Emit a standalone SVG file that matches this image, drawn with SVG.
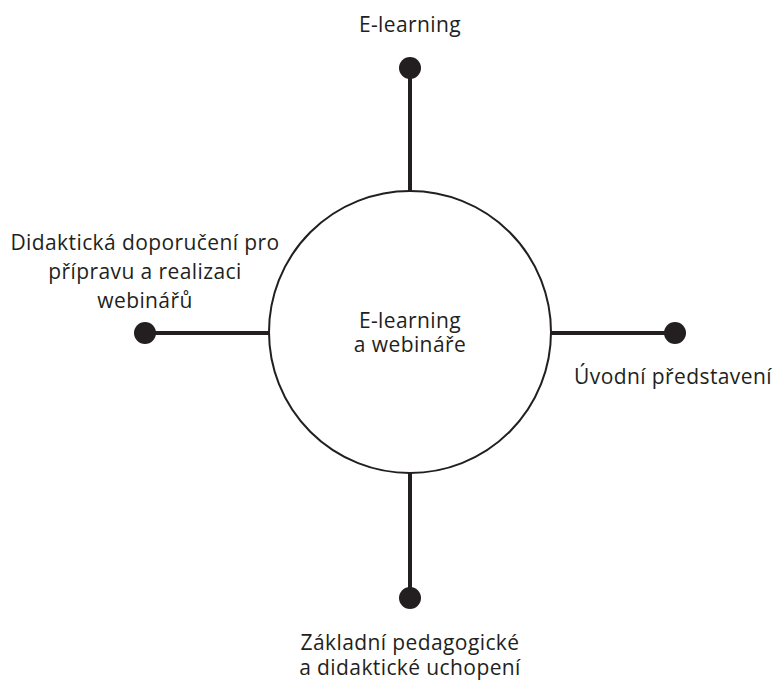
<svg xmlns="http://www.w3.org/2000/svg" width="775" height="681" viewBox="0 0 775 681">
  <style>
    .lbl { font-family: "Open Sans", "Noto Sans", "Liberation Sans", sans-serif; font-size: 21px; letter-spacing: 0.4px; fill: #231f20; text-anchor: middle; }
    .arm { stroke: #231f20; stroke-width: 4; fill: none; }
    .dot { fill: #231f20; }
    .hub { fill: #ffffff; stroke: #231f20; stroke-width: 2; }
  </style>
  <rect width="775" height="681" fill="#ffffff"/>

  <!-- spokes from the hub to each topic -->
  <g id="connectors">
    <line class="arm" x1="410" y1="68" x2="410" y2="191"/>
    <line class="arm" x1="410" y1="473" x2="410" y2="598"/>
    <line class="arm" x1="145" y1="333" x2="270" y2="333"/>
    <line class="arm" x1="550" y1="333" x2="675" y2="333"/>
  </g>

  <g id="hub">
    <circle class="hub" cx="410" cy="332" r="141"/>
    <text class="lbl" x="410" y="328">E-learning</text>
    <text class="lbl" x="410" y="352">a webináře</text>
  </g>

  <g id="topic-top">
    <circle class="dot" cx="410" cy="68" r="11"/>
    <text class="lbl" x="410" y="32">E-learning</text>
  </g>

  <g id="topic-left">
    <circle class="dot" cx="145" cy="333" r="11"/>
    <text class="lbl" x="145" y="250">Didaktická doporučení pro</text>
    <text class="lbl" x="145" y="279">přípravu a realizaci</text>
    <text class="lbl" x="145" y="308">webinářů</text>
  </g>

  <g id="topic-right">
    <circle class="dot" cx="675" cy="333" r="11"/>
    <text class="lbl" x="673" y="384">Úvodní představení</text>
  </g>

  <g id="topic-bottom">
    <circle class="dot" cx="410" cy="598" r="11"/>
    <text class="lbl" x="410" y="650">Základní pedagogické</text>
    <text class="lbl" x="410" y="675">a didaktické uchopení</text>
  </g>
</svg>
